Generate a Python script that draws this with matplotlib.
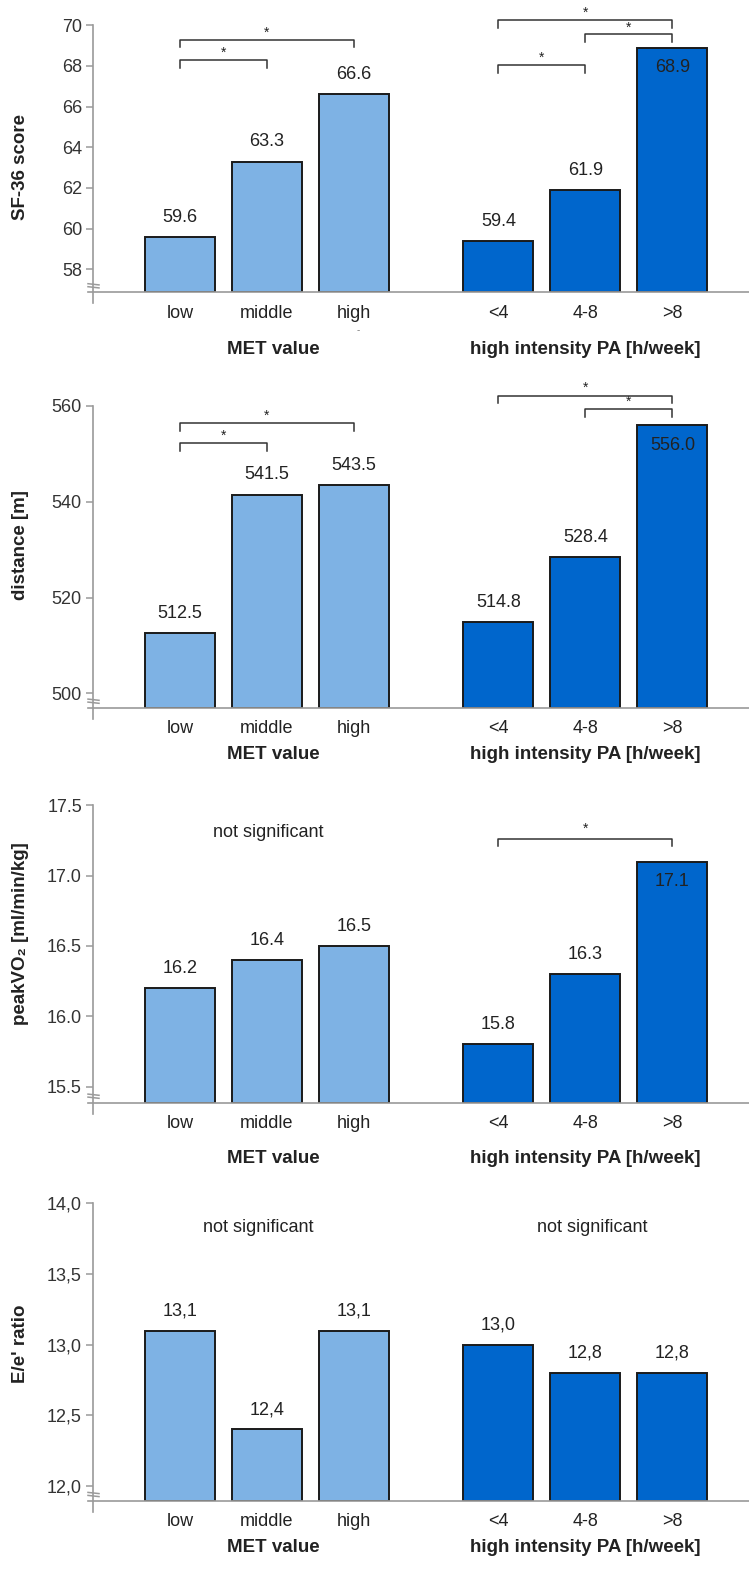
import matplotlib
matplotlib.use('Agg')
import matplotlib.pyplot as plt

plt.rcParams['font.family'] = ['Liberation Sans', 'DejaVu Sans']

W, H, DPI = 749, 1571, 100

# ---------------- data ----------------
categories_met = ['low', 'middle', 'high']
categories_pa = ['<4', '4-8', '>8']
group_titles = ['MET value', 'high intensity PA [h/week]']

sf36_met = [59.6, 63.3, 66.6]
sf36_pa = [59.4, 61.9, 68.9]
dist_met = [512.5, 541.5, 543.5]
dist_pa = [514.8, 528.4, 556.0]
vo2_met = [16.2, 16.4, 16.5]
vo2_pa = [15.8, 16.3, 17.1]
ee_met = [13.1, 12.4, 13.1]
ee_pa = [13.0, 12.8, 12.8]

ylabels = ['SF-36 score', 'distance [m]', 'peakVO₂ [ml/min/kg]', "E/e' ratio"]
yticks_sf36 = [58, 60, 62, 64, 66, 68, 70]
yticks_dist = [500, 520, 540, 560]
yticks_vo2 = [15.5, 16.0, 16.5, 17.0, 17.5]
yticks_ee = [12.0, 12.5, 13.0, 13.5, 14.0]

# significance brackets: (from bar, to bar, bracket level, leg end, star level)
brackets_sf36 = [(0, 2, 69.26, 68.92, 69.62), (0, 1, 68.28, 67.88, 68.64),
                 (3, 5, 70.25, 69.85, 70.61), (4, 5, 69.56, 69.16, 69.90),
                 (3, 4, 68.03, 67.64, 68.38)]
brackets_dist = [(0, 2, 556.5, 554.8, 558.0), (0, 1, 552.3, 550.7, 553.8),
                 (3, 5, 562.15, 560.56, 563.8), (4, 5, 559.31, 557.77, 560.9)]
brackets_vo2 = [(3, 5, 17.258, 17.211, 17.330)]
brackets_ee = []

# "not significant" notes: (x position in bar units, level)
notes_sf36 = []
notes_dist = []
notes_vo2 = [(1.02, 17.305)]
notes_ee = [(0.90, 13.832), (4.74, 13.832)]

# ---------------- style / layout ----------------
light = '#7EB2E4'
dark = '#0066CC'
axis_gray = '#9a9a9a'
txt = '#222222'
FS = 13
FSB = 13.5

xpos = [0, 1, 2, 3.66, 4.66, 5.66]
bar_w = 0.805
xlim = (-1.0, 6.54)

panel_px = [(25.3, 292.3), (406.0, 707.7), (805.3, 1102.7), (1203.3, 1501.0)]
ylims = [(56.87, 70), (497.0, 560), (15.386, 17.5), (11.894, 14.0)]
title_off_px = [57, 47, 56, 47]
ylabel_y_px = [167.5, 545, 933.3, 1344]

panels = [
    (sf36_met + sf36_pa, yticks_sf36, lambda v: f'{v:.0f}', lambda v: f'{v:.1f}', brackets_sf36, notes_sf36, [5]),
    (dist_met + dist_pa, yticks_dist, lambda v: f'{v:.0f}', lambda v: f'{v:.1f}', brackets_dist, notes_dist, [5]),
    (vo2_met + vo2_pa, yticks_vo2, lambda v: f'{v:.1f}', lambda v: f'{v:.1f}', brackets_vo2, notes_vo2, [5]),
    (ee_met + ee_pa, yticks_ee, lambda v: f'{v:.1f}'.replace('.', ','), lambda v: f'{v:.1f}'.replace('.', ','),
     brackets_ee, notes_ee, []),
]

fig = plt.figure(figsize=(W / DPI, H / DPI), dpi=DPI)
fig.patch.set_facecolor('white')

left_px = 93.0
for i, (vals, yt, tfmt, vfmt, brs, notes, inside) in enumerate(panels):
    top, bot = panel_px[i]
    ax = fig.add_axes([left_px / W, 1 - bot / H, (W - left_px) / W, (bot - top) / H])
    ax.set_xlim(*xlim)
    ax.set_ylim(*ylims[i])
    for s in ax.spines.values():
        s.set_visible(False)
    ax.patch.set_alpha(0)

    base = ylims[i][0]
    colors = [light] * 3 + [dark] * 3
    ax.bar(xpos, [v - base for v in vals], width=bar_w, bottom=base, color=colors,
           edgecolor='#1a1a1a', linewidth=1.4, zorder=3)

    # axes lines
    ax_h = bot - top
    ax_w = W - left_px
    ax.plot([-5 / ax_w, 1], [0, 0], transform=ax.transAxes, color=axis_gray,
            lw=1.2, clip_on=False, zorder=4)
    ax.plot([0, 0], [-11 / ax_h, 1], transform=ax.transAxes, color=axis_gray,
            lw=1.2, clip_on=False, zorder=4)
    # break marks
    for dy in (8, 5):
        ax.plot([-5 / ax_w, 6 / ax_w], [(dy + 0.6) / ax_h, (dy - 0.6) / ax_h],
                transform=ax.transAxes, color=axis_gray, lw=1.1, clip_on=False, zorder=4)

    ax.set_yticks(yt)
    ax.set_yticklabels([tfmt(v) for v in yt])
    ax.tick_params(axis='y', direction='out', length=5, width=1.1, color=axis_gray,
                   labelsize=FS, labelcolor='#333333', pad=3)
    ax.set_xticks([])

    # category labels
    cats = categories_met + categories_pa
    for x, c in zip(xpos, cats):
        ax.annotate(c, xy=(x, 0), xycoords=('data', 'axes fraction'), xytext=(0, -21 * 0.72),
                    textcoords='offset points', ha='center', va='center', fontsize=FS, color=txt)
    # group titles
    for x, t in zip([1.07, 4.66], group_titles):
        ax.annotate(t, xy=(x, 0), xycoords=('data', 'axes fraction'),
                    xytext=(0, -title_off_px[i] * 0.72), textcoords='offset points',
                    ha='center', va='center', fontsize=FSB, fontweight='bold', color=txt)
    if i == 0:
        ax.annotate('-', xy=(2.05, 0), xycoords=('data', 'axes fraction'), xytext=(0, -38 * 0.72),
                    textcoords='offset points', ha='center', va='center', fontsize=7, color='#777777')

    # value labels
    for k, (x, v) in enumerate(zip(xpos, vals)):
        off = -20 * 0.72 if k in inside else 19.7 * 0.72
        ax.annotate(vfmt(v), xy=(x, v), xytext=(0, off), textcoords='offset points',
                    ha='center', va='center', fontsize=FS, color=txt, zorder=5)

    # brackets
    for a, b, yb, yl, ys in brs:
        xa, xb = xpos[a], xpos[b]
        ax.plot([xa, xa, xb, xb], [yl, yb, yb, yl], color='#333333', lw=1.1,
                clip_on=False, zorder=5)
        ax.text((xa + xb) / 2, ys, '*', ha='center', va='center', fontsize=10,
                color=txt, clip_on=False)

    for x, y in notes:
        ax.text(x, y, 'not significant', ha='center', va='center', fontsize=FS, color=txt)

    fig.text(20.5 / W, 1 - ylabel_y_px[i] / H, ylabels[i], rotation=90, ha='center',
             va='center', fontsize=FSB, fontweight='bold', color=txt)

fig.savefig('out.png', dpi=DPI, facecolor='white')
